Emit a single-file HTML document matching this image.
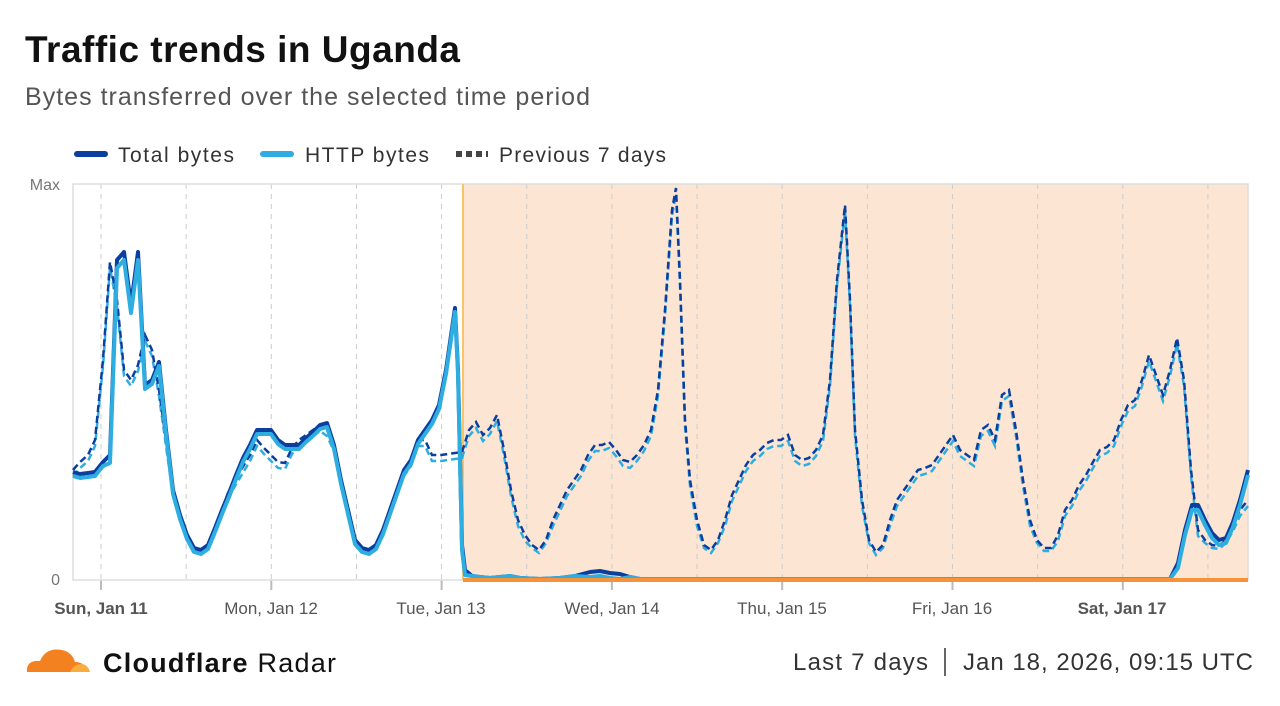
<!DOCTYPE html>
<html><head><meta charset="utf-8"><style>
body{margin:0;background:#fff;width:1280px;height:701px;overflow:hidden;font-family:"Liberation Sans",sans-serif;}
</style></head><body>
<svg width="1280" height="701" xmlns="http://www.w3.org/2000/svg" font-family="Liberation Sans, sans-serif">
<text x="25" y="62" font-size="37" font-weight="bold" fill="#111" textLength="435">Traffic trends in Uganda</text>
<text x="25" y="105" font-size="25" fill="#555" textLength="565">Bytes transferred over the selected time period</text>
<line x1="77" y1="154" x2="105" y2="154" stroke="#0a3fa0" stroke-width="6" stroke-linecap="round"/>
<text x="118" y="162" font-size="21" fill="#333" textLength="116">Total bytes</text>
<line x1="263" y1="154" x2="291" y2="154" stroke="#2eaee0" stroke-width="6" stroke-linecap="round"/>
<text x="305" y="162" font-size="21" fill="#333" textLength="124">HTTP bytes</text>
<line x1="456" y1="154" x2="488" y2="154" stroke="#444" stroke-width="6" stroke-dasharray="6,4"/>
<text x="499" y="162" font-size="21" fill="#333" textLength="167">Previous 7 days</text>
<text x="60" y="190" font-size="16" fill="#777" text-anchor="end">Max</text>
<text x="60" y="585" font-size="16" fill="#777" text-anchor="end">0</text>
<rect x="463" y="184" width="785" height="396" fill="#fde5d3"/>
<g id="grid"></g>
<rect x="73" y="184" width="1175" height="396" fill="none" stroke="#ddd" stroke-width="1.5"/>
<line x1="463" y1="184" x2="463" y2="580" stroke="#f8c46a" stroke-width="2"/>
<g id="lines"></g>
<line x1="463" y1="580" x2="1248" y2="580" stroke="#f6923a" stroke-width="4"/>
<g font-size="17" fill="#555" text-anchor="middle">
<text x="101" y="614" font-weight="bold">Sun, Jan 11</text>
<text x="271" y="614">Mon, Jan 12</text>
<text x="441" y="614">Tue, Jan 13</text>
<text x="612" y="614">Wed, Jan 14</text>
<text x="782" y="614">Thu, Jan 15</text>
<text x="952" y="614">Fri, Jan 16</text>
<text x="1122" y="614" font-weight="bold">Sat, Jan 17</text>
</g>
<path d="M27 672 Q26 660 40 661 Q46 647 62 650 Q72 652 75 662 Q85 662 88 672 Z" fill="#f48120"/>
<path d="M70 672 Q74 664 82 664 Q88 665 90 672 Z" fill="#faad3f"/>
<text x="103" y="672" font-size="27" font-weight="bold" fill="#111" textLength="233">Cloudflare <tspan font-weight="normal">Radar</tspan></text>
<text x="793" y="670" font-size="24" fill="#333" textLength="135">Last 7 days</text>
<line x1="945" y1="648" x2="945" y2="676" stroke="#333" stroke-width="1.5"/>
<text x="1253" y="670" font-size="24" fill="#333" text-anchor="end" textLength="290">Jan 18, 2026, 09:15 UTC</text>
</svg>
<script>
var g=document.getElementById('grid'),s='';
for(var i=0;i<14;i++){var x=101+i*85.15;if(x>1248)break;var main=i%2==0;
s+='<line x1="'+x+'" y1="184" x2="'+x+'" y2="580" stroke="#ccc" stroke-dasharray="5,5" stroke-width="1"/>';
if(main)s+='<line x1="'+x+'" y1="580" x2="'+x+'" y2="590" stroke="#bbb" stroke-width="2"/>';}
g.innerHTML=s;
var tot=[[73,472],[80,474],[88,473],[95,472],[103,462],[110,455],[117,260],[124,252],[131,305],[138,252],[145,385],[152,380],[159,362],[166,430],[173,490],[180,515],[187,535],[194,548],[201,550],[208,545],[215,528],[222,510],[229,493],[236,475],[243,458],[250,445],[257,430],[264,430],[271,430],[278,440],[285,445],[292,445],[299,445],[306,438],[313,432],[320,425],[327,423],[334,445],[341,480],[348,510],[355,540],[362,548],[369,550],[376,545],[383,530],[390,510],[397,490],[404,470],[411,460],[418,440],[425,430],[432,420],[439,405],[446,370],[455,308],[458,370],[462,545],[465,570],[472,576],[480,577],[490,578],[500,577],[510,576],[520,578],[540,579],[560,578],[575,576],[590,572],[600,571],[610,573],[620,574],[630,577],[640,579],[1170,579],[1178,563],[1185,530],[1192,505],[1198,505],[1205,520],[1212,533],[1219,540],[1226,538],[1233,522],[1240,500],[1248,470]];
var http=tot.map(function(p,i){var d=p[1]<575?(p[0]<460?4:5):0;if(p[0]>=110&&p[0]<=140)d=8;return [p[0],Math.min(p[1]+d,580)]});
var prev=[[73,470],[80,462],[88,455],[95,440],[103,360],[110,262],[117,300],[124,370],[131,380],[138,365],[145,335],[152,350],[159,390],[166,440],[173,490],[180,515],[187,535],[194,548],[201,550],[208,545],[215,528],[222,510],[229,490],[250,455],[257,440],[264,448],[271,455],[278,462],[285,463],[292,448],[299,440],[306,435],[313,430],[320,425],[327,430],[334,445],[341,480],[348,510],[355,540],[362,548],[369,550],[376,545],[383,530],[390,510],[397,490],[404,470],[411,460],[418,440],[425,440],[432,455],[441,455],[455,453],[462,452],[469,430],[476,422],[483,435],[490,428],[497,415],[504,450],[511,490],[518,520],[525,535],[532,545],[539,550],[546,540],[553,520],[560,505],[567,490],[574,480],[581,470],[588,455],[595,445],[602,445],[609,442],[616,450],[623,460],[630,462],[637,455],[644,445],[651,430],[658,390],[665,310],[672,210],[676,188],[680,280],[685,420],[690,480],[697,520],[704,545],[711,550],[718,540],[725,520],[732,495],[739,480],[746,465],[753,455],[760,450],[767,443],[774,440],[781,440],[788,435],[795,455],[802,460],[809,458],[816,450],[823,435],[830,380],[837,280],[845,205],[850,300],[855,430],[862,500],[869,540],[876,552],[883,545],[890,520],[897,500],[904,490],[911,480],[918,470],[925,468],[932,465],[939,455],[946,445],[953,435],[960,450],[967,455],[974,460],[981,430],[988,425],[995,440],[1002,395],[1009,390],[1016,430],[1023,480],[1030,520],[1037,540],[1044,548],[1051,548],[1058,535],[1065,510],[1072,500],[1079,485],[1086,475],[1093,462],[1100,450],[1107,447],[1114,440],[1121,420],[1128,405],[1135,400],[1142,380],[1149,355],[1156,375],[1163,395],[1170,370],[1177,338],[1184,380],[1191,470],[1198,530],[1205,540],[1212,545],[1219,546],[1226,540],[1233,525],[1240,510],[1248,500]];
var prevh=prev.map(function(p){return [p[0],p[1]+(p[1]<540?6:3)]});
function pts(a){return a.map(function(p){return p.join(',')}).join(' ')}
var L=document.getElementById('lines');
L.innerHTML='<polyline points="'+pts(prevh)+'" fill="none" stroke="#2eaee0" stroke-width="2.5" stroke-dasharray="7,4"/>'+
'<polyline points="'+pts(prev)+'" fill="none" stroke="#0a3fa0" stroke-width="2.5" stroke-dasharray="7,4"/>'+
'<polyline points="'+pts(tot)+'" fill="none" stroke="#0a3fa0" stroke-width="4" stroke-linejoin="round"/>'+
'<polyline points="'+pts(http)+'" fill="none" stroke="#2eaee0" stroke-width="4" stroke-linejoin="round"/>';
</script>
</body></html>
